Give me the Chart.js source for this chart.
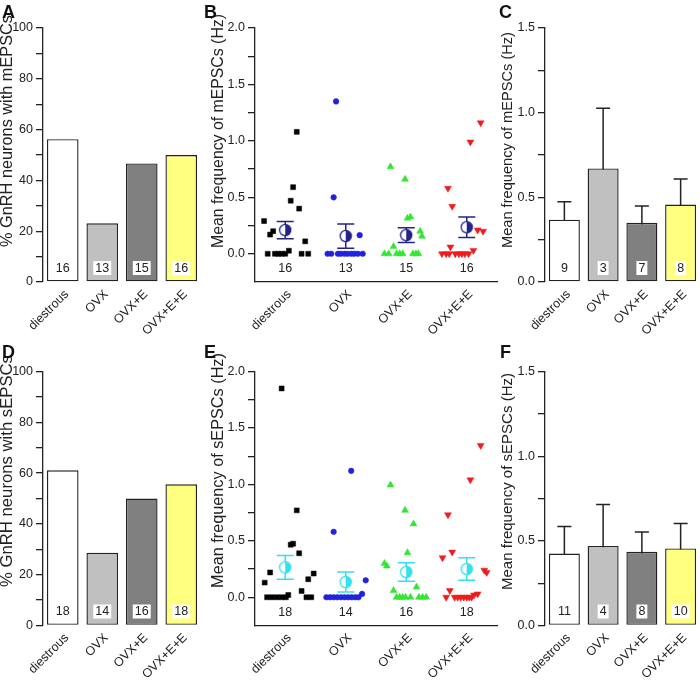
<!DOCTYPE html>
<html lang="en">
<head>
<meta charset="utf-8">
<title>GnRH neuron EPSCs</title>
<script src="https://cdn.jsdelivr.net/npm/chart.js@4.4.1/dist/chart.umd.min.js"></script>
<style>
  html, body { margin: 0; padding: 0; background: #ffffff; }
  #figure { position: relative; width: 700px; height: 680px; overflow: hidden; }
  #figure canvas { position: absolute; }
  .letter { position: absolute; font: bold 18px "Liberation Sans", Arial, sans-serif; color: #111; line-height: 1; }
</style>
</head>
<body>
<div id="figure">
  <canvas id="panelA" width="215" height="340" style="left:0;top:0"></canvas>
  <canvas id="panelB" width="305" height="340" style="left:200px;top:0"></canvas>
  <canvas id="panelC" width="205" height="340" style="left:495px;top:0"></canvas>
  <canvas id="panelD" width="215" height="340" style="left:0;top:340px"></canvas>
  <canvas id="panelE" width="305" height="340" style="left:200px;top:340px"></canvas>
  <canvas id="panelF" width="205" height="340" style="left:495px;top:340px"></canvas>
  <div class="letter" style="left:2px;top:3px">A</div>
  <div class="letter" style="left:204px;top:3px">B</div>
  <div class="letter" style="left:499px;top:3px">C</div>
  <div class="letter" style="left:2px;top:343px">D</div>
  <div class="letter" style="left:204px;top:343px">E</div>
  <div class="letter" style="left:500px;top:343px">F</div>
</div>
<script>
// groups on every x axis
const groups = ["diestrous", "OVX", "OVX+E", "OVX+E+E"];

// A / D: % of GnRH neurons with events, n cells per group
const pctMini = [56.25, 23.1, 46.7, 50.0];
const nMini = [16, 13, 15, 16];
const pctSpont = [61.1, 28.6, 50.0, 55.6];
const nSpont = [18, 14, 16, 18];

// B: mEPSC frequency of each cell (Hz) and the dot's sideways jitter
const miniFreq = [
  [0.29, 0.17, 0.20, 0, 0, 0, 0, 0, 0.027, 1.08, 0.59, 0.47, 0.40, 0.11, 0, 0],
  [1.35, 0.50, 0.165, 0, 0, 0, 0, 0, 0, 0, 0, 0, 0],
  [0.77, 0.66, 0.325, 0.315, 0.20, 0.155, 0.065, 0, 0, 0, 0, 0, 0, 0, 0],
  [1.16, 0.99, 0.58, 0.42, 0.21, 0.20, 0.06, 0.03, 0, 0, 0, 0, 0, 0, 0, 0],
];
const miniJitter = [
  [-0.35, -0.25, -0.20, -0.29, -0.17, -0.115, -0.06, 0.0, 0.06, 0.19, 0.13, 0.09, 0.23, 0.33, 0.27, 0.38],
  [-0.16, -0.20, 0.23, -0.30, -0.24, -0.13, -0.08, -0.02, 0.03, 0.09, 0.14, 0.20, 0.28],
  [-0.26, -0.02, 0.07, 0.02, 0.23, 0.26, -0.21, -0.36, -0.29, -0.16, -0.11, -0.06, 0.11, 0.16, 0.20],
  [0.23, 0.06, -0.31, -0.24, 0.18, 0.27, -0.27, 0.11, -0.41, -0.34, -0.29, -0.19, -0.13, -0.08, -0.03, 0.03],
];
const miniMean = [0.21, 0.157, 0.165, 0.235];
const miniSem = [0.077, 0.107, 0.065, 0.09];

// C: mean mEPSC frequency of cells with events
const miniActiveMean = [0.368, 0.671, 0.350, 0.457];
const miniActiveSem = [0.106, 0.355, 0.099, 0.151];
const miniActiveN = [9, 3, 7, 8];

// E: sEPSC frequency of each cell (Hz) and jitter
const spontFreq = [
  [1.85, 0.77, 0.466, 0.475, 0.39, 0.13, 0.22, 0.21, 0.16, 0.056, 0.02, 0, 0, 0, 0, 0, 0, 0],
  [1.12, 0.58, 0.15, 0.03, 0, 0, 0, 0, 0, 0, 0, 0, 0, 0],
  [0.994, 0.77, 0.65, 0.395, 0.30, 0.276, 0.09, 0.06, 0, 0, 0, 0, 0, 0, 0, 0],
  [1.345, 1.04, 0.73, 0.40, 0.35, 0.24, 0.22, 0.06, 0.03, 0.02, 0, 0, 0, 0, 0, 0, 0, 0],
];
const spontJitter = [
  [-0.06, 0.19, 0.09, 0.13, 0.23, -0.34, -0.25, 0.47, 0.38, 0.27, 0.05, -0.30, -0.22, -0.14, -0.06, 0.01, 0.35, 0.43],
  [0.09, -0.20, 0.33, 0.27, -0.32, -0.26, -0.20, -0.14, -0.08, -0.02, 0.04, 0.10, 0.16, 0.21],
  [-0.26, -0.02, 0.12, 0.02, -0.36, -0.32, 0.17, -0.21, -0.16, -0.11, -0.06, -0.01, 0.07, 0.21, 0.27, 0.33],
  [0.23, 0.06, -0.31, -0.24, -0.40, 0.29, 0.33, -0.28, 0.18, 0.12, -0.34, -0.20, -0.15, -0.10, -0.05, 0.0, 0.04, 0.08],
];
const spontMean = [0.265, 0.135, 0.224, 0.25];
const spontSem = [0.105, 0.088, 0.082, 0.10];

// F: mean sEPSC frequency of cells with events
const spontActiveMean = [0.425, 0.47, 0.435, 0.455];
const spontActiveSem = [0.16, 0.245, 0.117, 0.148];
const spontActiveN = [11, 4, 8, 10];

const INK = "#222222";
const FONT = '"Liberation Sans", Arial, Helvetica, sans-serif';
const barFill = ["#ffffff", "#c0c0c0", "#808080", "#ffff80"];
const dotStyle = [
  { color: "#000000", shape: "rect", radius: 3.5, rotation: 0 },
  { color: "#2222dd", shape: "circle", radius: 2.8, rotation: 0 },
  { color: "#33e633", shape: "triangle", radius: 4, rotation: 0 },
  { color: "#ee1c1c", shape: "triangle", radius: 4, rotation: 180 },
];
// top padding and x-axis height for each row
const rows = [{ top: 28, axisH: 58 }, { top: 31.5, axisH: 54.5 }];

function isMajor(v, major) {
  return Math.abs(v / major - Math.round(v / major)) < 1e-6;
}

function yScale(min, max, step, major, width, decimals) {
  return {
    min: min,
    max: max,
    border: { display: true, color: INK, width: 1.3 },
    grid: { drawOnChartArea: false, drawTicks: true, tickLength: 7, color: INK, lineWidth: 1.3 },
    ticks: {
      stepSize: step,
      autoSkip: false,
      padding: 3,
      color: INK,
      font: { family: FONT, size: 12.5 },
      callback: (v) => (isMajor(v, major) ? v.toFixed(decimals) : ""),
    },
    afterBuildTicks: (s) => {
      s.ticks = s.ticks.filter((t) => t.value >= -1e-9);
    },
    afterFit: (s) => {
      s.width = width;
    },
  };
}

function xTicks() {
  return {
    autoSkip: false,
    maxRotation: 45,
    minRotation: 45,
    padding: 5,
    labelOffset: 4,
    color: INK,
    font: { family: FONT, size: 12.5 },
  };
}

// rotated y-axis title: t = {text, x, shift (up from axis middle), length in px}
function titlePlugin(t) {
  return {
    id: "yTitle",
    afterDraw(chart) {
      const { ctx, chartArea } = chart;
      ctx.save();
      ctx.font = "16px " + FONT;
      const size = (16 * t.length) / ctx.measureText(t.text).width;
      ctx.font = size.toFixed(2) + "px " + FONT;
      ctx.translate(t.x, (chartArea.top + chartArea.bottom) / 2 - t.shift);
      ctx.rotate(-Math.PI / 2);
      ctx.fillStyle = INK;
      ctx.textAlign = "center";
      ctx.textBaseline = "middle";
      ctx.fillText(t.text, 0, 0);
      ctx.restore();
    },
  };
}

// n per group: inside the bars (boxed) or under the dots
function countPlugin(counts, atValue, boxed) {
  return {
    id: "counts",
    afterDatasetsDraw(chart) {
      const { ctx, scales } = chart;
      ctx.save();
      ctx.font = "12.5px " + FONT;
      ctx.textAlign = "center";
      ctx.textBaseline = "middle";
      counts.forEach((n, i) => {
        const x = scales.x.getPixelForValue(i);
        const y = atValue === null ? scales.y.getPixelForValue(0) - 14 : scales.y.getPixelForValue(atValue);
        const label = String(n);
        if (boxed) {
          const w = ctx.measureText(label).width + 4;
          ctx.fillStyle = "#ffffff";
          ctx.fillRect(x - w / 2, y - 7, w, 14);
        }
        ctx.fillStyle = INK;
        ctx.fillText(label, x, y + 0.5);
      });
      ctx.restore();
    },
  };
}

// mean +/- SEM, drawn under the datasets so bars and mean markers cover it
function semPlugin(means, sems, color, halfCap) {
  return {
    id: "semBars",
    beforeDatasetsDraw(chart) {
      const { ctx, scales } = chart;
      ctx.save();
      ctx.strokeStyle = color;
      ctx.lineWidth = 1.5;
      means.forEach((m, i) => {
        const x = scales.x.getPixelForValue(i);
        const top = scales.y.getPixelForValue(m + sems[i]);
        const bottom = scales.y.getPixelForValue(m - sems[i]);
        ctx.beginPath();
        ctx.moveTo(x, top);
        ctx.lineTo(x, bottom);
        ctx.moveTo(x - halfCap, top);
        ctx.lineTo(x + halfCap, top);
        ctx.moveTo(x - halfCap, bottom);
        ctx.lineTo(x + halfCap, bottom);
        ctx.stroke();
      });
      ctx.restore();
    },
  };
}

// open circle with the right half filled
function halfDot(color) {
  const c = document.createElement("canvas");
  c.width = 14;
  c.height = 14;
  const g = c.getContext("2d");
  g.beginPath();
  g.arc(7, 7, 5.6, 0, Math.PI * 2);
  g.fillStyle = "#ffffff";
  g.fill();
  g.beginPath();
  g.arc(7, 7, 5.6, -Math.PI / 2, Math.PI / 2);
  g.closePath();
  g.fillStyle = color;
  g.fill();
  g.beginPath();
  g.arc(7, 7, 5.6, 0, Math.PI * 2);
  g.lineWidth = 1.3;
  g.strokeStyle = color;
  g.stroke();
  return c;
}

function barPanel(id, cfg) {
  const plugins = [titlePlugin(cfg.title), countPlugin(cfg.counts, null, true)];
  if (cfg.sem) plugins.push(semPlugin(cfg.values, cfg.sem, INK, 7));
  return new Chart(document.getElementById(id), {
    type: "bar",
    data: {
      labels: groups,
      datasets: [
        {
          data: cfg.values,
          backgroundColor: barFill,
          borderColor: INK,
          borderWidth: 1.4,
          borderSkipped: false,
          barPercentage: 0.8,
          categoryPercentage: 1,
        },
      ],
    },
    options: {
      responsive: false,
      animation: false,
      layout: { padding: { top: cfg.row.top, right: cfg.padRight, left: 0, bottom: 0 } },
      plugins: { legend: { display: false }, tooltip: { enabled: false } },
      scales: {
        x: {
          border: { display: false },
          grid: { display: false, drawTicks: false },
          ticks: xTicks(),
          afterFit: (s) => {
            s.height = cfg.row.axisH;
          },
        },
        y: yScale(0, cfg.max, cfg.step, cfg.major, cfg.axisW, cfg.decimals),
      },
    },
    plugins: plugins,
  });
}

function dotPanel(id, cfg) {
  const datasets = [
    {
      data: cfg.mean.map((m, i) => ({ x: i, y: m })),
      pointStyle: halfDot(cfg.meanColor),
      pointRadius: 7,
    },
  ];
  cfg.freq.forEach((vals, i) => {
    const st = dotStyle[i];
    datasets.push({
      data: vals.map((v, k) => ({ x: i + cfg.jitter[i][k], y: v })),
      pointStyle: st.shape,
      pointRadius: st.radius,
      pointRotation: st.rotation,
      backgroundColor: st.color,
      borderColor: st.color,
      borderWidth: 0.5,
    });
  });
  return new Chart(document.getElementById(id), {
    type: "scatter",
    data: { datasets: datasets },
    options: {
      responsive: false,
      animation: false,
      layout: { padding: { top: cfg.row.top, right: 7, left: 0, bottom: 0 } },
      plugins: { legend: { display: false }, tooltip: { enabled: false } },
      scales: {
        x: {
          type: "linear",
          min: -0.5,
          max: 3.5,
          border: { display: true, color: INK, width: 1.3 },
          grid: { display: false, drawTicks: false },
          ticks: Object.assign(xTicks(), { callback: (v) => groups[v] }),
          afterBuildTicks: (s) => {
            s.ticks = groups.map((g, i) => ({ value: i }));
          },
          afterFit: (s) => {
            s.height = cfg.row.axisH;
          },
        },
        y: yScale(-0.25, 2, 0.25, 0.5, 55, 1),
      },
    },
    plugins: [
      titlePlugin(cfg.title),
      countPlugin(cfg.counts, -0.13, false),
      semPlugin(cfg.mean, cfg.sem, cfg.meanColor, 8.5),
    ],
  });
}

barPanel("panelA", {
  values: pctMini, counts: nMini, row: rows[0], padRight: 14,
  max: 100, step: 10, major: 20, decimals: 0, axisW: 43,
  title: { text: "% GnRH neurons with mEPSCs", x: 7, shift: 24, length: 232 },
});
dotPanel("panelB", {
  freq: miniFreq, jitter: miniJitter, mean: miniMean, sem: miniSem, counts: nMini,
  meanColor: "#23238a", row: rows[0],
  title: { text: "Mean frequency of mEPSCs (Hz)", x: 18.5, shift: 24, length: 234 },
});
barPanel("panelC", {
  values: miniActiveMean, sem: miniActiveSem, counts: miniActiveN, row: rows[0], padRight: 0,
  max: 1.5, step: 0.25, major: 0.5, decimals: 1, axisW: 50,
  title: { text: "Mean frequency of mEPSCs (Hz)", x: 12.5, shift: 15, length: 216 },
});
barPanel("panelD", {
  values: pctSpont, counts: nSpont, row: rows[1], padRight: 14,
  max: 100, step: 10, major: 20, decimals: 0, axisW: 43,
  title: { text: "% GnRH neurons with sEPSCs", x: 7, shift: 27.5, length: 232 },
});
dotPanel("panelE", {
  freq: spontFreq, jitter: spontJitter, mean: spontMean, sem: spontSem, counts: nSpont,
  meanColor: "#33e0ee", row: rows[1],
  title: { text: "Mean frequency of sEPSCs (Hz)", x: 18.5, shift: 28, length: 235 },
});
barPanel("panelF", {
  values: spontActiveMean, sem: spontActiveSem, counts: spontActiveN, row: rows[1], padRight: 0,
  max: 1.5, step: 0.25, major: 0.5, decimals: 1, axisW: 50,
  title: { text: "Mean frequency of sEPSCs (Hz)", x: 12.5, shift: 17, length: 217 },
});
</script>
</body>
</html>
